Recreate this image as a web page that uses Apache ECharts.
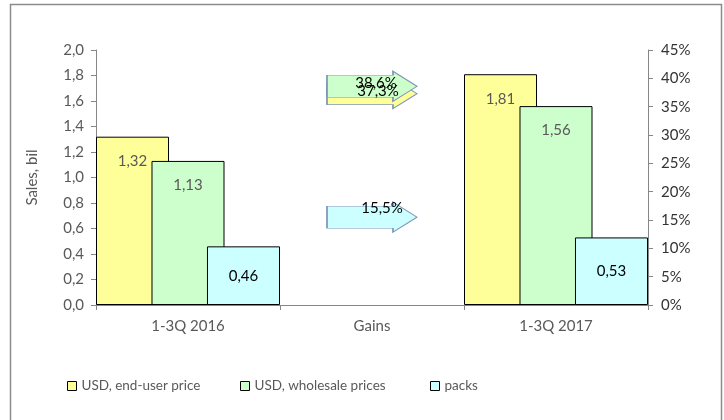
<!DOCTYPE html>
<html>
<head>
<meta charset="utf-8">
<script src="https://cdn.jsdelivr.net/npm/echarts@6/dist/echarts.min.js"></script>
<style>html,body{margin:0;padding:0;background:#fff}#c{width:724px;height:420px}</style>
</head>
<body>
<div id="c"></div>
<script>
var categories = ['1-3Q 2016', 'Gains', '1-3Q 2017'];
var endUser = [1.32, null, 1.81];
var wholesale = [1.13, null, 1.56];
var packs = [0.46, null, 0.53];
var gainEndUser = 37.3;
var gainWholesale = 38.6;
var gainPacks = 15.5;
var seriesNames = ['USD, end-user price', 'USD, wholesale prices', 'packs'];

var FONT = 'Lato, "Liberation Sans", sans-serif';
var ARROW = 'path://M0,4 L66,4 L66,0 L90,15 L66,30 L66,26 L0,26 Z';
function comma(v, d) { return v.toFixed(d).replace('.', ','); }

var chart = echarts.init(document.getElementById('c'), null, {renderer: 'canvas'});

function barSeries(name, data, color, labelColor, pos) {
  return {
    name: name, type: 'bar', data: data,
    barCategoryGap: '0%', barGap: '-24%',
    itemStyle: {color: color, borderColor: '#000', borderWidth: 1},
    label: {
      show: true, position: pos, distance: pos === 'insideTop' ? 17 : 5,
      color: labelColor, fontSize: 15, fontFamily: FONT,
      formatter: function (p) { return comma(p.value, 2); }
    }
  };
}

function arrowSeries(name, value, color, offset) {
  return {
    name: name, type: 'scatter', yAxisIndex: 1,
    data: [['Gains', value]],
    symbol: ARROW, symbolSize: [90, 30],
    itemStyle: {color: color, borderColor: '#7f95b8', borderWidth: 1, opacity: 1},
    label: {
      show: true, position: 'inside', offset: offset,
      color: '#000', fontSize: 15, fontFamily: FONT,
      formatter: function (p) { return comma(p.value[1], 1) + '%'; }
    },
    emphasis: {disabled: true},
    z: 5
  };
}

function legendAt(name, left) {
  return {
    data: [name], left: left, top: 379, padding: 0,
    icon: 'rect', itemWidth: 9, itemHeight: 9,
    textStyle: {color: '#595959', fontSize: 13.5, fontFamily: FONT},
    itemStyle: {borderColor: '#000', borderWidth: 1}
  };
}

chart.setOption({
  animation: false,
  backgroundColor: '#fff',
  textStyle: {fontFamily: FONT},
  graphic: [{
    type: 'rect', shape: {x: 10.5, y: 4.5, width: 711, height: 430},
    style: {fill: 'none', stroke: '#8c8c8c', lineWidth: 1.5}, silent: true, z: -10
  }],
  grid: {left: 96, right: 76, top: 50, bottom: 115},
  legend: [
    legendAt(seriesNames[0], 67),
    legendAt(seriesNames[1], 240),
    legendAt(seriesNames[2], 430)
  ],
  xAxis: {
    type: 'category', data: categories,
    axisLine: {lineStyle: {color: '#868686'}},
    axisTick: {show: true, length: 5, lineStyle: {color: '#868686'}},
    axisLabel: {color: '#595959', fontSize: 15, margin: 14, fontFamily: FONT}
  },
  yAxis: [{
    type: 'value', min: 0, max: 2, interval: 0.2,
    name: 'Sales, bil', nameLocation: 'middle', nameGap: 56,
    nameTextStyle: {color: '#595959', fontSize: 15, fontFamily: FONT},
    axisLine: {show: true, lineStyle: {color: '#868686'}},
    axisTick: {show: true, length: 5, lineStyle: {color: '#868686'}},
    splitLine: {show: false},
    axisLabel: {color: '#595959', fontSize: 15, margin: 12, fontFamily: FONT,
      formatter: function (v) { return comma(v, 1); }}
  }, {
    type: 'value', min: 0, max: 45, interval: 5, position: 'right',
    axisLine: {show: true, lineStyle: {color: '#868686'}},
    axisTick: {show: true, length: 5, lineStyle: {color: '#868686'}},
    splitLine: {show: false},
    axisLabel: {color: '#333', fontSize: 15, margin: 13, fontFamily: FONT,
      formatter: '{value}%'}
  }],
  series: [
    barSeries(seriesNames[0], endUser, '#ffff99', '#595959', 'insideTop'),
    barSeries(seriesNames[1], wholesale, '#ccffcc', '#595959', 'insideTop'),
    barSeries(seriesNames[2], packs, '#ccffff', '#000', 'inside'),
    arrowSeries('gain end-user', gainEndUser, '#ffff99', [6, -2]),
    arrowSeries('gain wholesale', gainWholesale, '#ccffcc', [4, -3]),
    arrowSeries('gain packs', gainPacks, '#ccffff', [10, -9])
  ]
});
</script>
</body>
</html>
